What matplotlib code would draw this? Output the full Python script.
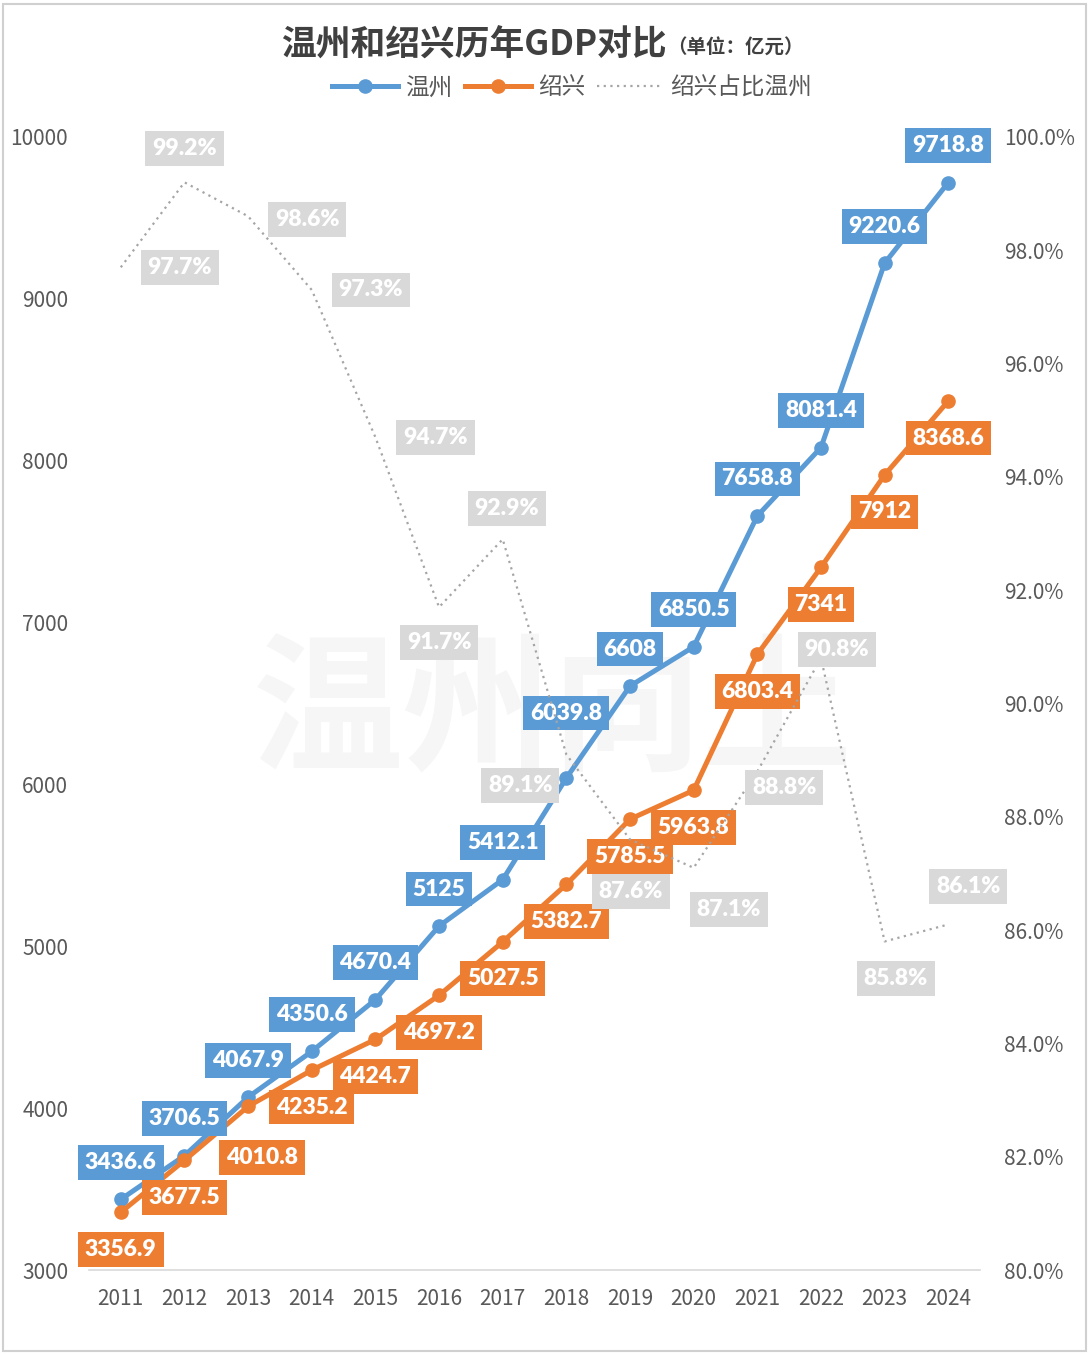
import matplotlib.pyplot as plt
from matplotlib.patches import Rectangle
from matplotlib.lines import Line2D

plt.rcParams['font.family'] = ['Noto Sans CJK SC', 'DejaVu Sans']

# data
years = [2011, 2012, 2013, 2014, 2015, 2016, 2017, 2018, 2019, 2020, 2021, 2022, 2023, 2024]
wenzhou = [3436.6, 3706.5, 4067.9, 4350.6, 4670.4, 5125, 5412.1, 6039.8, 6608, 6850.5, 7658.8, 8081.4, 9220.6, 9718.8]
shaoxing = [3356.9, 3677.5, 4010.8, 4235.2, 4424.7, 4697.2, 5027.5, 5382.7, 5785.5, 5963.8, 6803.4, 7341, 7912, 8368.6]
ratio = [97.7, 99.2, 98.6, 97.3, 94.7, 91.7, 92.9, 89.1, 87.6, 87.1, 88.8, 90.8, 85.8, 86.1]

wz_labels = ['3436.6', '3706.5', '4067.9', '4350.6', '4670.4', '5125', '5412.1', '6039.8',
             '6608', '6850.5', '7658.8', '8081.4', '9220.6', '9718.8']
sx_labels = ['3356.9', '3677.5', '4010.8', '4235.2', '4424.7', '4697.2', '5027.5', '5382.7',
             '5785.5', '5963.8', '6803.4', '7341', '7912', '8368.6']

# label offsets in pixels (dx, dy)
wz_off = [(0, 37)] * 7 + [(0, 65)] + [(0, 37)] * 6
sx_off = [(0, -37), (0, -37), (14, -51)] + [(0, -37)] * 11
rt_off = [(59, 0), (0, 34), (59, -3), (59, 0), (60, 0), (0, -35), (4, 31), (-46, -31),
          (1, -52), (35, -42), (27, -16), (16, 9), (11, -37), (20, 38)]

BLUE = '#5B9BD5'
ORANGE = '#ED7D31'
GRAY = '#A5A5A5'
LBLGRAY = '#D9D9D9'
TXT = '#595959'

fig = plt.figure(figsize=(10.89, 13.55), dpi=100)
ax = fig.add_axes([0.0817, 0.0627, 0.8183, 0.8362])
ax2 = ax.twinx()

# faint watermark
ax.text(0.52, 0.49, '温州向上', transform=ax.transAxes, fontsize=108, fontweight='bold',
        color='#f6f6f6', ha='center', va='center', zorder=0, style='italic')

ax.plot(years, wenzhou, color=BLUE, lw=3.6, marker='o', ms=9.5, zorder=3)
ax.plot(years, shaoxing, color=ORANGE, lw=3.6, marker='o', ms=9.5, zorder=3)
ax2.plot(years, ratio, color=GRAY, lw=1.6, ls=(0, (1, 2)), zorder=2)

lab_font = dict(family=['Lato', 'DejaVu Sans'], fontsize=16.5, fontweight='heavy', color='white',
                ha='center', va='center')

for x, y, s, o in zip(years, wenzhou, wz_labels, wz_off):
    ax.annotate(s, (x, y), xytext=o, textcoords='offset pixels', zorder=5,
                bbox=dict(boxstyle='square,pad=0.3', fc=BLUE, ec='none'), **lab_font)
for x, y, s, o in zip(years, shaoxing, sx_labels, sx_off):
    ax.annotate(s, (x, y), xytext=o, textcoords='offset pixels', zorder=5,
                bbox=dict(boxstyle='square,pad=0.3', fc=ORANGE, ec='none'), **lab_font)
for x, y, o in zip(years, ratio, rt_off):
    ax2.annotate(f'{y:.1f}%', (x, y), xytext=o, textcoords='offset pixels', zorder=5,
                 bbox=dict(boxstyle='square,pad=0.3', fc=LBLGRAY, ec='none'), **lab_font)

ax.set_xlim(2010.5, 2024.5)
ax.set_ylim(3000, 10000)
ax2.set_ylim(80, 100)
ax.set_xticks(years)
ax.set_xticklabels([str(y) for y in years])
ax.set_yticks(range(3000, 10001, 1000))
ax2.set_yticks(range(80, 101, 2))
ax2.set_yticklabels([f'{v:.1f}%' for v in range(80, 101, 2)])

for a in (ax, ax2):
    for sp in a.spines.values():
        sp.set_visible(False)
    a.tick_params(length=0, labelsize=15, labelcolor=TXT)
ax.spines['bottom'].set_visible(True)
ax.spines['bottom'].set_color('#D9D9D9')
ax.spines['bottom'].set_linewidth(1.2)
ax.tick_params(axis='x', pad=13)
ax.tick_params(axis='y', pad=15)
ax2.tick_params(axis='y', pad=17)

# title
fig.text(667 / 1089, 1 - 45 / 1355, '温州和绍兴历年GDP对比', fontsize=25, fontweight='bold',
         color='#404040', ha='right', va='center')
fig.text(667 / 1089, 1 - 48 / 1355, '（单位：亿元）', fontsize=14, fontweight='bold',
         color='#404040', ha='left', va='center')

# legend
handles = [Line2D([], [], color=BLUE, lw=3.6, marker='o', ms=9.5),
           Line2D([], [], color=ORANGE, lw=3.6, marker='o', ms=9.5),
           Line2D([], [], color=GRAY, lw=1.6, ls=(0, (1, 2)))]
fig.legend(handles, ['温州', '绍兴', '绍兴占比温州'], loc='center', bbox_to_anchor=(572 / 1089, 1 - 88 / 1355),
           ncol=3, frameon=False, fontsize=17, labelcolor=TXT, handlelength=2.8,
           columnspacing=0.5, handletextpad=0.3)

# figure border
fig.patches.append(Rectangle((0.003, 0.003), 0.994, 0.994, transform=fig.transFigure,
                             fill=False, ec='#D0D0D0', lw=1.5))

fig.savefig('out.png', dpi=100)
